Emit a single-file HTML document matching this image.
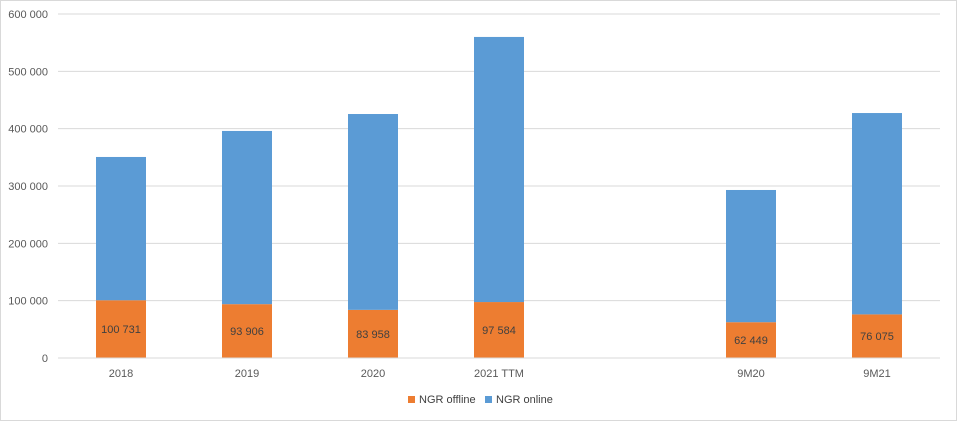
<!DOCTYPE html>
<html><head><meta charset="utf-8"><style>
body{margin:0;background:#fff;}
svg{display:block;font-family:"Liberation Sans",sans-serif;}
</style></head><body>
<svg id="chart" width="957" height="421">
<rect x="0.5" y="0.5" width="956" height="420" fill="#fff" stroke="#d9d9d9"/>
<g id="grid"></g><g id="bars"></g><g id="axis"></g>
<g>
<rect x="408" y="396" width="7" height="7" fill="#ed7d31"/>
<text x="419" y="403" font-size="11" fill="#404040">NGR offline</text>
<rect x="485" y="396" width="7" height="7" fill="#5b9bd5"/>
<text x="496" y="403" font-size="11" fill="#404040">NGR online</text>
</g>
</svg>
<script>
const categories=["2018","2019","2020","2021 TTM","","9M20","9M21"];
const offline=[100731,93906,83958,97584,null,62449,76075];
const online=[249900,302100,341600,462400,null,230600,351200];
const offlineLabels=["100 731","93 906","83 958","97 584","","62 449","76 075"];
const yTicks=[0,100000,200000,300000,400000,500000,600000];
const yTickLabels=["0","100 000","200 000","300 000","400 000","500 000","600 000"];
const L=58,R=940,Y0=358,Y1=14,MAX=600000;
const NS="http://www.w3.org/2000/svg";
function y(v){return Y0-(v/MAX)*(Y0-Y1);}
function xc(i){const w=(R-L)/categories.length;return L+w*(i+0.5);}
function mk(t,a,p){const e=document.createElementNS(NS,t);for(const k in a)e.setAttribute(k,a[k]);p.appendChild(e);return e;}
const grid=document.getElementById('grid'),bars=document.getElementById('bars'),axis=document.getElementById('axis');
yTicks.forEach((v,i)=>{
 const ln=mk('line',{x1:L,x2:R,y1:y(v),y2:y(v),stroke:'#d9d9d9','stroke-width':1},grid);
 
 
 const t=mk('text',{x:L-10,y:y(v)+4,'text-anchor':'end','font-size':11,fill:'#595959'},axis);
 t.textContent=yTickLabels[i];
 
 
});
const bw=50;
categories.forEach((c,i)=>{
 const t=mk('text',{x:xc(i),y:377,'text-anchor':'middle','font-size':11,fill:'#595959'},axis);
 t.textContent=c;
 
 
 if(offline[i]==null)return;
 const o=offline[i],n=online[i];
 const r1=mk('rect',{x:xc(i)-bw/2,y:y(o),width:bw,height:Y0-y(o),fill:'#ed7d31'},bars);
 
 
 const r2=mk('rect',{x:xc(i)-bw/2,y:y(o+n),width:bw,height:y(o)-y(o+n),fill:'#5b9bd5'},bars);
 
 
 const lb=mk('text',{x:xc(i),y:(y(o)+Y0)/2+4,'text-anchor':'middle','font-size':11,fill:'#404040'},bars);
 lb.textContent=offlineLabels[i];
 
 
});
const ax=mk('line',{x1:L,x2:R,y1:Y0,y2:Y0,stroke:'#d9d9d9'},axis);


</script>
</body></html>
